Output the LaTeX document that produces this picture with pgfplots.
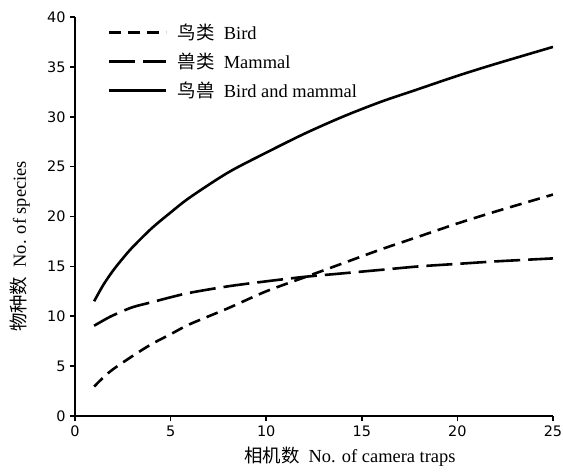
\documentclass[border=0pt]{standalone}
\usepackage{pgfplots}
\pgfplotsset{compat=1.18}
\usepackage{fontspec}
\setmainfont{Liberation Serif}
\newfontfamily\cjk{Noto Sans CJK SC}
\newfontfamily\ticksf{DejaVu Sans}
\begin{document}
\begin{tikzpicture}
\begin{axis}[
  scale only axis, width=478bp, height=399bp,
  xmin=0, xmax=25, ymin=0, ymax=40,
  axis x line=bottom, axis y line=left,
  axis line style={line width=2bp, -},
  xtick={0,5,...,25}, ytick={0,5,...,40},
  tick align=outside, major tick length=5bp,
  tick style={line width=1.6bp, black},
  /pgf/number format/assume math mode=true,
  ticklabel style={font=\ticksf\fontsize{14.5}{16}\selectfont},
  xticklabel style={yshift=-1bp},
  yticklabel style={xshift=-1bp},
  xlabel={{\cjk 相机数}\enspace No. of camera traps},
  ylabel={{\cjk 物种数}\enspace No. of species},
  label style={font=\fontsize{18.5}{20}\selectfont},
  xlabel style={at={(axis description cs:0.575,0)}, anchor=center, yshift=-41bp},
  ylabel style={at={(axis description cs:0,0.425)}, anchor=center, yshift=55bp},
  legend style={draw=none, fill=none, at={(axis description cs:0.069,0.988)}, anchor=north west,
    font=\fontsize{18.5}{20}\selectfont, row sep=8bp, column sep=8bp, inner sep=0pt, nodes={inner sep=2bp}},
  legend cell align=left,
  legend image code/.code={\draw[#1] (0bp,0bp) -- (57bp,0bp);},
]
\addplot[black, line width=2.6bp, smooth, dash pattern=on 12bp off 7bp] coordinates {
(1,2.95) (1.5,3.9) (2,4.7) (3,6.0) (4,7.2) (5,8.2) (6,9.2) (8,10.8) (10,12.5) (12,13.9) (14,15.3) (16,16.7) (18,18.0) (20,19.3) (22,20.5) (25,22.2)};
\addlegendentry{{\cjk 鸟类}\enspace Bird}
\addplot[black, line width=2.6bp, smooth, dash pattern=on 26bp off 8bp] coordinates {
(1,9.05) (1.5,9.6) (2,10.1) (3,10.9) (4,11.4) (5,11.9) (6,12.35) (8,13.0) (10,13.5) (12,13.95) (14,14.3) (16,14.65) (18,15.0) (20,15.25) (22,15.5) (25,15.8)};
\addlegendentry{{\cjk 兽类}\enspace Mammal}
\addplot[black, line width=2.6bp, smooth] coordinates {
(1,11.5) (1.5,13.2) (2,14.6) (2.5,15.8) (3,16.9) (4,18.8) (5,20.4) (6,21.9) (8,24.4) (10,26.4) (12,28.3) (14,30.0) (16,31.5) (18,32.8) (20,34.1) (22,35.3) (25,37.0)};
\addlegendentry{{\cjk 鸟兽}\enspace Bird and mammal}
\coordinate (O) at (rel axis cs:0,0);
\coordinate (T) at (rel axis cs:1,1);
\end{axis}
\pgfresetboundingbox
\path[use as bounding box] ([xshift=-75bp,yshift=-59bp]O) rectangle ([xshift=10bp,yshift=17bp]T);
\end{tikzpicture}
\end{document}
